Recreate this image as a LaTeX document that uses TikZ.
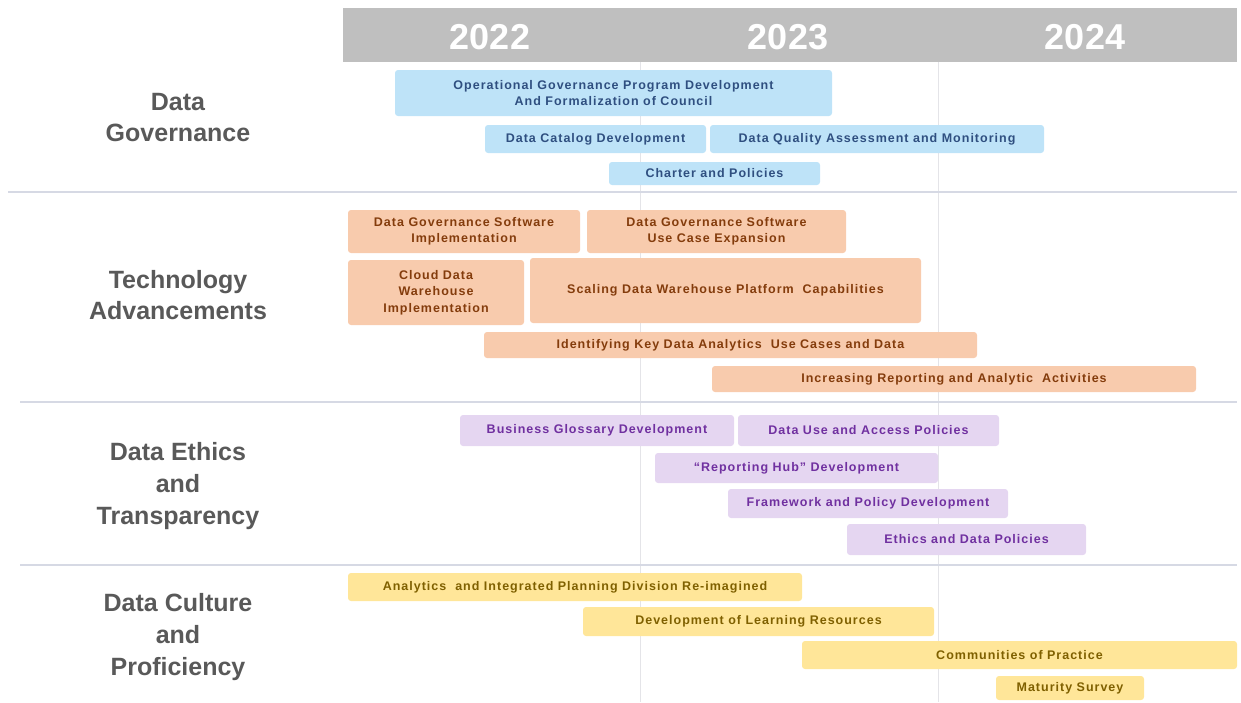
\documentclass[tikz,border=0pt]{standalone}
\usepackage{fontspec}
\setmainfont{Liberation Sans}
\newfontfamily\barfont[LetterSpace=8]{Liberation Sans}
\definecolor{hdrgray}{HTML}{BFBFBF}
\definecolor{catgray}{HTML}{595959}
\definecolor{sepline}{HTML}{D6D9E4}
\definecolor{yearline}{HTML}{E4E4E8}
\definecolor{bluefill}{HTML}{BEE3F8}
\definecolor{bluetext}{HTML}{2F4F80}
\definecolor{orangefill}{HTML}{F8CBAD}
\definecolor{orangetext}{HTML}{843C0C}
\definecolor{purplefill}{HTML}{E5D6F1}
\definecolor{purpletext}{HTML}{7030A0}
\definecolor{yellowfill}{HTML}{FFE699}
\definecolor{yellowtext}{HTML}{7F6000}
\tikzset{
  taskbox/.style={rectangle, rounded corners=3pt, inner sep=0pt, align=center,
    font=\barfont\bfseries\fontsize{12.5}{16.5}\selectfont},
  govbar/.style={taskbox, fill=bluefill, text=bluetext},
  techbar/.style={taskbox, fill=orangefill, text=orangetext},
  ethicsbar/.style={taskbox, fill=purplefill, text=purpletext},
  culturebar/.style={taskbox, fill=yellowfill, text=yellowtext},
  category/.style={align=center, text=catgray, font=\bfseries\fontsize{25}{31}\selectfont},
  category3/.style={category, font=\bfseries\fontsize{25}{32}\selectfont},
  year/.style={text=white, font=\bfseries\fontsize{36}{40}\selectfont},
  separator/.style={sepline, line width=1.6pt},
  yeardivider/.style={yearline, line width=1pt}
}
% #1 name, #2 style, #3 left, #4 top, #5 right, #6 bottom, #7 text (pixel units)
\newcommand\ganttbar[7]{%
  \node[#2, minimum width={(#5-#3)*1pt}, minimum height={(#6-#4)*1pt}]
    (#1) at ({(#3+#5)/2},{-(#4+#6)/2}) {#7};}
\begin{document}
\begin{tikzpicture}[x=1pt,y=1pt]
\useasboundingbox (0,0) rectangle (1241,-702);

% year header
\fill[hdrgray] (343,-8) rectangle (1237,-62);
\node[year] (y22) at (490,-37) {2022};
\node[year] (y23) at (788,-37) {2023};
\node[year] (y24) at (1085,-37) {2024};

% year dividers
\coordinate (d1top) at (640,-62);
\coordinate (d1bot) at (640,-702);
\coordinate (d2top) at (938,-62);
\coordinate (d2bot) at (938,-702);
\draw[yeardivider] (d1top) -- (d1bot);
\draw[yeardivider] (d2top) -- (d2bot);

% section separators
\coordinate (s1a) at (8,-192);   \coordinate (s1b) at (1237,-192);
\coordinate (s2a) at (20,-402);  \coordinate (s2b) at (1237,-402);
\coordinate (s3a) at (20,-565);  \coordinate (s3b) at (1237,-565);
\draw[separator] (s1a) -- (s1b);
\draw[separator] (s2a) -- (s2b);
\draw[separator] (s3a) -- (s3b);

% category labels
\node[category] (catgov) at (178,-118) {Data\\Governance};
\node[category] (cattech) at (178,-295) {Technology\\Advancements};
\node[category3] (catethics) at (178,-486) {Data Ethics\\and\\Transparency};
\node[category3] (catculture) at (178,-637) {Data Culture\\and\\Proficiency};

% data governance
\ganttbar{opgov}{govbar}{395}{70}{832}{116}{Operational Governance Program Development\\And Formalization of Council}
\ganttbar{catalog}{govbar}{485}{125}{706}{153}{Data Catalog Development}
\ganttbar{quality}{govbar}{710}{125}{1044}{153}{Data Quality Assessment and Monitoring}
\ganttbar{charter}{govbar}{609}{162}{820}{185}{Charter and Policies}

% technology advancements
\ganttbar{dgsimpl}{techbar}{348}{210}{580}{253}{Data Governance Software\\Implementation}
\ganttbar{dgsexp}{techbar}{587}{210}{846}{253}{Data Governance Software\\Use Case Expansion}
\ganttbar{clouddw}{techbar}{348}{260}{524}{325}{Cloud Data\\Warehouse\\Implementation}
\ganttbar{scaling}{techbar}{530}{258}{921}{323}{Scaling Data Warehouse Platform\ \ Capabilities}
\ganttbar{usecases}{techbar}{484}{332}{977}{358}{Identifying Key Data Analytics\ \ Use Cases and Data}
\ganttbar{reporting}{techbar}{712}{366}{1196}{392}{Increasing Reporting and Analytic\ \ Activities}

% data ethics and transparency
\ganttbar{glossary}{ethicsbar}{460}{415}{734}{446}{Business Glossary Development}
\ganttbar{access}{ethicsbar}{738}{415}{999}{446}{Data Use and Access Policies}
\ganttbar{hub}{ethicsbar}{655}{453}{938}{483}{“Reporting Hub” Development}
\ganttbar{framework}{ethicsbar}{728}{489}{1008}{518}{Framework and Policy Development}
\ganttbar{ethics}{ethicsbar}{847}{524}{1086}{555}{Ethics and Data Policies}

% data culture and proficiency
\ganttbar{aipd}{culturebar}{348}{573}{802}{601}{Analytics\ \ and Integrated Planning Division Re-imagined}
\ganttbar{learning}{culturebar}{583}{607}{934}{636}{Development of Learning Resources}
\ganttbar{practice}{culturebar}{802}{641}{1237}{669}{Communities of Practice}
\ganttbar{maturity}{culturebar}{996}{676}{1144}{700}{Maturity Survey}
\end{tikzpicture}
\end{document}
